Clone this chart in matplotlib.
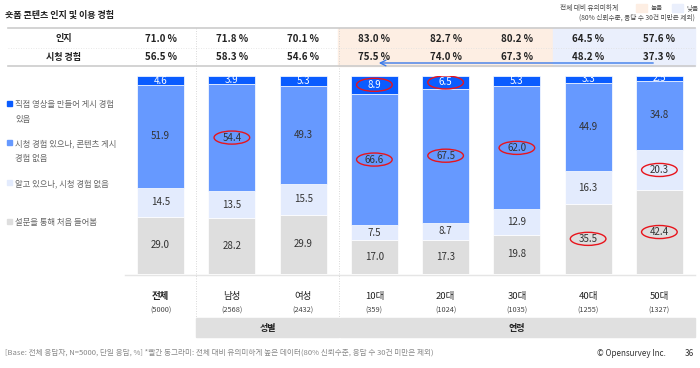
import numpy as np
import matplotlib.pyplot as plt
from matplotlib.patches import Rectangle, Ellipse

plt.rcParams['font.family'] = ['Noto Sans CJK KR', 'DejaVu Sans']

# data
groups = ['전체', '남성', '여성', '10대', '20대', '30대', '40대', '50대']
counts = ['(5000)', '(2568)', '(2432)', '(359)', '(1024)', '(1035)', '(1255)', '(1327)']
aware = [71.0, 71.8, 70.1, 83.0, 82.7, 80.2, 64.5, 57.6]
watched = [56.5, 58.3, 54.6, 75.5, 74.0, 67.3, 48.2, 37.3]

first_heard = [29.0, 28.2, 29.9, 17.0, 17.3, 19.8, 35.5, 42.4]
know_not_watched = [14.5, 13.5, 15.5, 7.5, 8.7, 12.9, 16.3, 20.3]
watched_not_posted = [51.9, 54.4, 49.3, 66.6, 67.5, 62.0, 44.9, 34.8]
posted = [4.6, 3.9, 5.3, 8.9, 6.5, 5.3, 3.3, 2.5]

series_names = ['설문을 통해 처음 들어봄', '알고 있으나, 시청 경험 없음',
                '시청 경험 있으나, 콘텐츠 게시\n경험 없음', '직접 영상을 만들어 게시 경험\n있음']
colors = ['#dedede', '#e3ebfd', '#6699ff', '#0a5cff']

# red circles: (group index, series index)
highlight = [(1, 2), (3, 3), (3, 2), (4, 3), (4, 2), (5, 2), (6, 0), (7, 1), (7, 0)]

W, H = 700, 368
fig = plt.figure(figsize=(7, 3.68), dpi=100)

# overlay axes in pixel coords
ov = fig.add_axes([0, 0, 1, 1])
ov.set_xlim(0, W)
ov.set_ylim(H, 0)
ov.axis('off')

# bar axes: x 125..695 px, y 76..274 px
bx0, bx1, by0, by1 = 125, 695, 76, 274
ax = fig.add_axes([bx0 / W, 1 - by1 / H, (bx1 - bx0) / W, (by1 - by0) / H])
ax.set_xlim(-0.5, 7.5)
ax.set_ylim(0, 100)
ax.axis('off')
col_w = (bx1 - bx0) / 8.0


def cx(i):
    return bx0 + (i + 0.5) * col_w


# background shading for significance
ov.add_patch(Rectangle((cx(3) - col_w / 2 - 1, 28), col_w * 3 + 1, 38, color='#fdeee3', zorder=0))
ov.add_patch(Rectangle((cx(6) - col_w / 2, 28), col_w * 2, 38, color='#eaeffc', zorder=0))

# table lines
ov.plot([8, 695], [28, 28], color='#cccccc', lw=1.2)
ov.plot([8, 695], [66, 66], color='#cccccc', lw=1.2)
ov.plot([8, 695], [47.5, 47.5], color='#e0e0e0', lw=0.6, ls=(0, (1, 2)))
ov.plot([125, 695], [274.5, 274.5], color='#e5e5e5', lw=1)
for xv in [cx(0) + col_w / 2, cx(2) + col_w / 2]:
    ov.plot([xv, xv], [28, 318], color='#cccccc', lw=0.6, ls=(0, (1, 2)))

# title
ov.text(5, 15, '숏폼 콘텐츠 인지 및 이용 경험', fontsize=6.5, fontweight='bold', color='#222222', va='center')

# top right legend
ov.text(560, 8, '전체 대비 유의미하게', fontsize=4.8, color='#444444', va='center')
ov.add_patch(Rectangle((636, 4), 11, 8, color='#fdeee3'))
ov.text(651, 8, '높음', fontsize=4.8, color='#444444', va='center')
ov.add_patch(Rectangle((672, 4), 11, 8, color='#eaeffc'))
ov.text(686, 8, '낮음', fontsize=4.8, color='#444444', va='center')
ov.text(695, 18, '(80% 신뢰수준, 응답 수 30건 미만은 제외)', fontsize=4.8, color='#444444',
        va='center', ha='right')

# table rows
ov.text(64, 38.5, '인지', fontsize=6.5, fontweight='bold', color='#222222', ha='center', va='center')
ov.text(64, 57, '시청 경험', fontsize=6.5, fontweight='bold', color='#222222', ha='center', va='center')
for i in range(len(groups)):
    ov.text(cx(i), 38.5, f'{aware[i]:.1f} %', fontsize=7, fontweight='bold', color='#222222',
            ha='center', va='center')
    ov.text(cx(i), 57, f'{watched[i]:.1f} %', fontsize=7, fontweight='bold', color='#222222',
            ha='center', va='center')

# arrow
ov.annotate('', xy=(376, 63), xytext=(656, 63),
            arrowprops=dict(arrowstyle='->', color='#3c7bea', lw=1.0))

# stacked bars
x = np.arange(len(groups))
stack = [first_heard, know_not_watched, watched_not_posted, posted]
bottom = np.zeros(len(groups))
for s, (vals, c) in enumerate(zip(stack, colors)):
    vals = np.array(vals)
    ax.bar(x, vals, bottom=bottom, width=0.66, color=c, edgecolor='white', linewidth=0.5)
    for i in range(len(groups)):
        mid = bottom[i] + vals[i] / 2
        tc = 'white' if s == 3 else '#333333'
        ax.text(x[i], mid, f'{vals[i]:.1f}', fontsize=7, color=tc, ha='center', va='center')
        if (i, s) in highlight:
            ax.add_patch(Ellipse((x[i], mid), 0.5, 6.6, fill=False, edgecolor='#e8141c', lw=1.0))
    bottom += vals

# left legend
leg_y = [104, 143, 183, 222]
for name, c, yy in zip(series_names[::-1], colors[::-1], leg_y):
    ov.add_patch(Rectangle((7, yy - 3), 5, 5, color=c))
    ov.text(15, yy - 4, name, fontsize=6, color='#666666', va='top', linespacing=1.9)

# category labels
for i, (g, n) in enumerate(zip(groups, counts)):
    ov.text(cx(i), 296, g, fontsize=6.8, color='#222222', ha='center', va='center',
            fontweight='bold' if i == 0 else 'normal')
    ov.text(cx(i), 311, n, fontsize=5.3, color='#444444', ha='center', va='center')

# group header boxes
ov.add_patch(Rectangle((cx(0) + col_w / 2, 318), col_w * 2, 19, color='#e0e0e0'))
ov.add_patch(Rectangle((cx(2) + col_w / 2 + 1, 318), col_w * 5 - 1, 19, color='#e0e0e0'))
ov.text(cx(1) + col_w / 2, 328, '성별', fontsize=6.5, fontweight='bold', color='#222222', ha='center', va='center')
ov.text(cx(5), 328, '연령', fontsize=6.5, fontweight='bold', color='#222222', ha='center', va='center')

# footer
ov.text(5, 353, '[Base: 전체 응답자, N=5000, 단일 응답, %] *빨간 동그라미: 전체 대비 유의미하게 높은 데이터(80% 신뢰수준, 응답 수 30건 미만은 제외)',
        fontsize=5.5, color='#888888', va='center')
ov.text(666, 353, '© Opensurvey Inc.', fontsize=5.8, color='#333333', va='center', ha='right')
ov.text(694, 353, '36', fontsize=5.8, color='#333333', va='center', ha='right')

fig.savefig('out.png', dpi=100)
